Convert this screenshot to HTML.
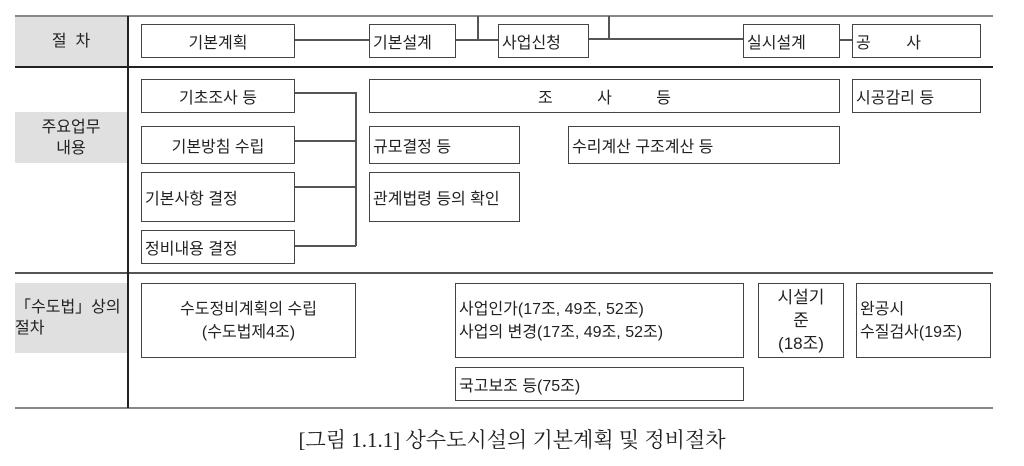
<!DOCTYPE html>
<html><head><meta charset="utf-8"><style>
body{margin:0;width:1024px;height:466px;background:#fff;position:relative;overflow:hidden;font-family:"Liberation Sans","Noto Sans CJK KR",sans-serif;color:#222;}
.a{position:absolute;box-sizing:border-box;}
.b{position:absolute;box-sizing:border-box;border:1.5px solid #444;font-size:16px;display:flex;align-items:center;padding-left:3px;white-space:nowrap;}
.c{justify-content:center;padding-left:0;text-align:center;}
.g{position:absolute;background:#e0e0e0;font-size:16px;display:flex;align-items:center;justify-content:center;text-align:center;line-height:21px;}
.h{position:absolute;height:1.5px;background:#555;}
.v{position:absolute;width:1.5px;background:#555;}
</style></head><body>
<div class="a" style="left:15px;top:15px;width:978px;height:2px;background:#888"></div>
<div class="a" style="left:15px;top:66px;width:978px;height:1.5px;background:#222"></div>
<div class="a" style="left:15px;top:272px;width:978px;height:1.5px;background:#555"></div>
<div class="a" style="left:15px;top:407px;width:978px;height:2px;background:#888"></div>
<div class="a" style="left:127px;top:16px;width:1.5px;height:392px;background:#222"></div>

<div class="g" style="left:15px;top:17px;width:112px;height:49px">절 &nbsp;차</div>
<div class="g" style="left:15px;top:112px;width:112px;height:51px">주요업무<br>내용</div>
<div class="g" style="left:15px;top:283px;width:112px;height:70px;justify-content:flex-start;text-align:left">「수도법」상의<br>절차</div>

<div class="b c" style="left:141px;top:24px;width:154px;height:34px">기본계획</div>
<div class="b" style="left:369px;top:24px;width:87px;height:34px">기본설계</div>
<div class="b" style="left:498px;top:24px;width:91px;height:34px">사업신청</div>
<div class="b" style="left:743px;top:24px;width:97px;height:34px">실시설계</div>
<div class="b" style="left:852px;top:24px;width:129px;height:34px">공 &nbsp;&nbsp;&nbsp;&nbsp;&nbsp;&nbsp;&nbsp;사</div>
<div class="h" style="left:295px;top:39px;width:74px"></div>
<div class="h" style="left:456px;top:39px;width:42px"></div>
<div class="v" style="left:477px;top:16px;height:24px"></div>
<div class="h" style="left:589px;top:38px;width:154px"></div>
<div class="v" style="left:608px;top:16px;height:23px"></div>
<div class="h" style="left:840px;top:39px;width:12px"></div>

<div class="b c" style="left:141px;top:79px;width:154px;height:34px">기초조사 등</div>
<div class="b c" style="left:141px;top:126px;width:154px;height:38px">기본방침 수립</div>
<div class="b" style="left:141px;top:172px;width:154px;height:50px">기본사항 결정</div>
<div class="b" style="left:141px;top:230px;width:154px;height:34px">정비내용 결정</div>
<div class="h" style="left:295px;top:92px;width:61px"></div>
<div class="h" style="left:295px;top:140px;width:61px"></div>
<div class="h" style="left:295px;top:186px;width:61px"></div>
<div class="h" style="left:295px;top:245px;width:61px"></div>
<div class="v" style="left:355px;top:92px;height:154px"></div>

<div class="b c" style="left:369px;top:79px;width:471px;height:34px;word-spacing:40px">조 사 등</div>
<div class="b" style="left:852px;top:79px;width:129px;height:34px">시공감리 등</div>
<div class="b" style="left:369px;top:126px;width:151px;height:38px">규모결정 등</div>
<div class="b" style="left:369px;top:172px;width:151px;height:50px">관계법령 등의 확인</div>
<div class="b" style="left:568px;top:126px;width:272px;height:38px">수리계산 구조계산 등</div>

<div class="b c" style="left:141px;top:283px;width:215px;height:75px;line-height:23px">수도정비계획의 수립<br>(수도법제4조)</div>
<div class="b" style="left:455px;top:283px;width:289px;height:75px;line-height:23px">사업인가(17조, 49조, 52조)<br>사업의 변경(17조, 49조, 52조)</div>
<div class="b c" style="left:758px;top:283px;width:86px;height:75px;line-height:23px;font-size:17px">시설기<br>준<br>(18조)</div>
<div class="b" style="left:856px;top:283px;width:135px;height:75px;line-height:23px">완공시<br>수질검사(19조)</div>
<div class="b" style="left:455px;top:367px;width:289px;height:34px">국고보조 등(75조)</div>

<div class="a" style="left:0;top:424px;width:1024px;text-align:center;font-size:21px;font-family:'Liberation Serif','Noto Serif CJK KR',serif">[그림 1.1.1] 상수도시설의 기본계획 및 정비절차</div>
</body></html>
